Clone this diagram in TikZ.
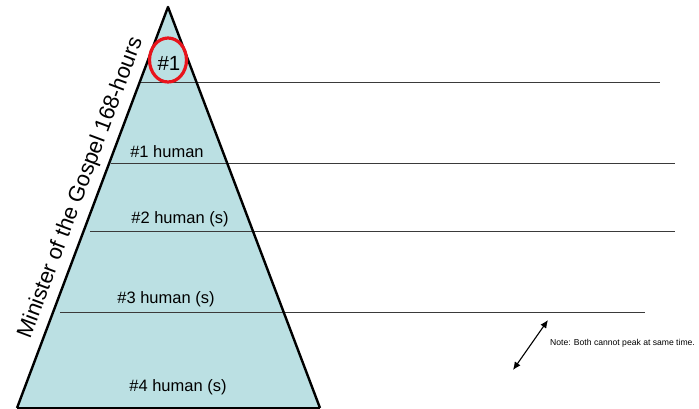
\documentclass[tikz,border=0pt]{standalone}
\usepackage{fontspec}
\setmainfont{Liberation Sans}
\usetikzlibrary{arrows.meta,positioning,shapes.geometric}
\definecolor{PyramidFill}{HTML}{BBE0E3}
\definecolor{LevelLine}{HTML}{3A3A3A}
\definecolor{RingRed}{HTML}{E8141C}

\begin{document}
\begin{tikzpicture}[x=1pt,y=-1pt,
  level/.style={font=\fontsize{16.5}{19}\selectfont,inner sep=0pt},
  divider/.style={draw=LevelLine,line width=0.9pt},
  ring/.style={draw=RingRed,line width=3.2pt,ellipse,minimum width=37pt,minimum height=44pt,inner sep=0pt},
  dblarr/.style={{Latex[length=8pt,width=7pt]}-{Latex[length=8pt,width=7pt]},line width=1.1pt}
]
\useasboundingbox (0,0) rectangle (699,408);
% pyramid corners
\coordinate (apex) at (168,7);
\coordinate (baseL) at (17,408);
\coordinate (baseR) at (320,408);
\fill[PyramidFill] (apex) -- (baseL) -- (baseR) -- cycle;
% level dividers
\draw[divider] (140,82) -- (660,82);
\draw[divider] (111,163) -- (675,163);
\draw[divider] (90,231) -- (675,231);
\draw[divider] (60,312) -- (645,312);
\draw[black,line width=2.4pt,line join=round] (baseL) -- (apex) -- (baseR);
\draw[black,line width=2.4pt] (baseL) -- (baseR);
% labels
\node[level,font=\fontsize{20.5}{24}\selectfont] (top) at (169,63) {\#1};
\node[ring] (topring) at (168,60) {};
\node[level] (lvlone) at (167,152) {\#1 human};
\node[level] (lvltwo) at (180,219) {\#2 human (s)};
\node[level] (lvlthree) at (166,299) {\#3 human (s)};
\node[level] (lvlfour) at (178,387) {\#4 human (s)};
\node[font=\fontsize{22}{26}\selectfont,inner sep=0pt,rotate=69.4] (side) at (81,188) {Minister of the Gospel 168-hours};
% note
\coordinate (arrlow) at (513,370);
\coordinate (arrhigh) at (548,320);
\draw[dblarr] (arrlow) -- (arrhigh);
\node[font=\fontsize{8.6}{10}\selectfont,anchor=west,inner sep=0pt] (note) at (550,343) {Note: Both cannot peak at same time.};
\end{tikzpicture}
\end{document}
